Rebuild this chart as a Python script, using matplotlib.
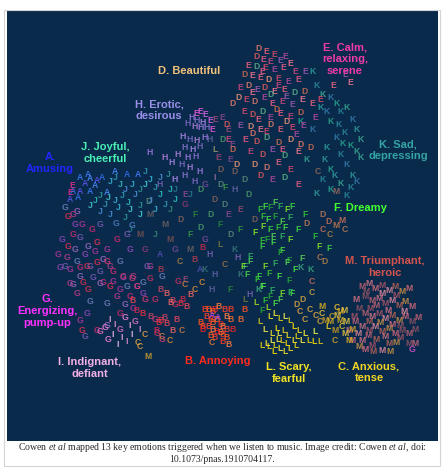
import matplotlib.pyplot as plt
from matplotlib.patches import Rectangle

# positions are in the pixel frame of the original picture (x right, y down)
label_texts = ['D. Beautiful', 'E. Calm,\nrelaxing,\nserene', 'H. Erotic,\ndesirous',
               'J. Joyful,\ncheerful', 'A.\nAmusing', 'K. Sad,\ndepressing', 'F. Dreamy',
               'M. Triumphant,\nheroic', 'G.\nEnergizing,\npump-up', 'I. Indignant,\ndefiant',
               'B. Annoying', 'L. Scary,\nfearful', 'C. Anxious,\ntense']
label_x = [189, 345, 159, 105, 50, 398, 360, 385, 47, 90, 218, 289, 369]
label_y = [71, 59, 110, 153, 163, 150, 208, 267, 311, 368, 361, 373, 372]
label_colors = ['#f2c27a', '#f03aa8', '#9a8ee8', '#48f0b4', '#2424ff', '#34a4a4', '#44ff30',
                '#d4544e', '#ff30ff', '#f2b0e4', '#ff2a1e', '#f2e224', '#f2d424']

caption_1 = (r'Cowen $\mathit{et\ al}$ mapped 13 key emotions triggered when we listen to music. '
             r'Image credit: Cowen $\mathit{et\ al}$, doi:')
caption_2 = '10.1073/pnas.1910704117.'

# clusters of letters: (x, y, letter)
e_pts = [(259, 49, 'D'), (266, 52, 'E'), (274, 55, 'E'), (285, 57, 'E'),
         (256, 57, 'D'), (263, 60, 'E'), (270, 62, 'E'), (280, 61, 'E'), (290, 64, 'E'),
         (248, 66, 'E'), (256, 67, 'D'), (265, 68, 'E'), (274, 70, 'E'), (283, 68, 'E'), (295, 72, 'E'), (305, 72, 'E'),
         (244, 75, 'D'), (252, 76, 'E'), (260, 78, 'E'), (268, 80, 'D'), (278, 79, 'E'), (288, 82, 'E'), (298, 80, 'E'),
         (240, 88, 'E'), (248, 86, 'D'), (257, 90, 'E'), (265, 88, 'D'), (274, 92, 'E'), (284, 90, 'E'), (294, 93, 'D'),
         (304, 92, 'D'), (238, 98, 'D'), (246, 100, 'E'), (255, 102, 'D'), (264, 98, 'E'), (272, 104, 'E'),
         (282, 102, 'E'), (292, 105, 'E'), (302, 100, 'E'), (312, 104, 'E'),
         (244, 112, 'E'), (252, 115, 'D'), (262, 112, 'D'), (270, 118, 'E'), (280, 114, 'E'), (290, 117, 'E'), (300, 113, 'D'),
         (240, 126, 'E'), (250, 127, 'D'), (260, 130, 'E'), (270, 125, 'D'), (280, 130, 'E'), (292, 128, 'E'), (303, 126, 'E'),
         (245, 140, 'E'), (256, 142, 'D'), (267, 138, 'D'), (278, 143, 'D'), (290, 140, 'D'), (300, 145, 'D'),
         (250, 152, 'E'), (262, 155, 'D'), (272, 150, 'E'), (285, 156, 'D'), (298, 152, 'E'), (310, 148, 'D'),
         (255, 165, 'D'), (266, 168, 'D'), (278, 163, 'E'), (290, 170, 'E'),
         (260, 176, 'D'), (272, 180, 'E'), (285, 178, 'D'), (298, 185, 'E'),
         (232, 150, 'D'), (236, 165, 'D'), (228, 140, 'E'), (232, 104, 'D'), (226, 125, 'D'),
         (345, 75, 'E'), (350, 83, 'E'), (333, 86, 'E'), (320, 100, 'E'), (315, 118, 'E'),
         (262, 72, 'E'), (278, 86, 'E'), (270, 95, 'D'), (286, 97, 'E'), (252, 93, 'E'), (276, 110, 'D'),
         (258, 120, 'E'), (286, 122, 'D'), (266, 132, 'E'), (296, 135, 'E'), (252, 134, 'D'), (282, 150, 'E')]
k_pts = [(312, 72, 'K'), (316, 86, 'K'), (322, 95, 'K'), (330, 98, 'K'), (336, 104, 'K'), (320, 108, 'K'),
         (341, 112, 'K'), (347, 108, 'K'), (352, 120, 'K'), (331, 122, 'K'), (356, 130, 'K'), (345, 133, 'K'),
         (361, 140, 'K'), (336, 138, 'K'), (350, 146, 'K'), (326, 148, 'K'), (341, 155, 'K'), (357, 152, 'K'),
         (346, 165, 'K'), (331, 170, 'K'), (352, 176, 'K'), (322, 180, 'K'), (340, 184, 'K'), (356, 182, 'K'),
         (330, 190, 'K'), (316, 194, 'K'), (346, 196, 'K'), (306, 160, 'K'), (312, 130, 'K'), (300, 122, 'K'),
         (325, 160, 'K'), (338, 125, 'K'), (360, 158, 'K'), (318, 172, 'C'), (336, 192, 'M'),
         (327, 112, 'K'), (343, 144, 'K'), (334, 176, 'K'), (350, 188, 'K')]
h_pts = [(200, 112, 'E'), (205, 115, 'E'), (196, 114, 'E'), (210, 121, 'E'), (212, 130, 'E'),
         (192, 118, 'H'), (197, 121, 'H'), (203, 123, 'H'), (188, 124, 'H'), (195, 127, 'H'), (201, 128, 'H'),
         (207, 128, 'H'), (183, 137, 'H'), (190, 140, 'H'), (197, 141, 'H'), (205, 138, 'H'), (185, 148, 'H'),
         (193, 150, 'H'), (200, 147, 'H'), (178, 155, 'H'), (188, 158, 'H'), (196, 157, 'H'), (172, 163, 'H'),
         (182, 165, 'H'), (190, 168, 'H'), (200, 172, 'H'), (185, 176, 'H'), (175, 180, 'H'), (195, 182, 'H'),
         (165, 158, 'H'), (150, 153, 'H'), (215, 150, 'L')]
a_pts = [(88, 175, 'A'), (90, 179, 'A'), (97, 181, 'A'), (102, 178, 'A'), (90, 192, 'A'), (107, 193, 'A'),
         (80, 192, 'A'), (73, 192, 'A'), (80, 178, 'A'), (95, 186, 'A'), (85, 184, 'A'), (127, 175, 'A'),
         (138, 175, 'A'), (115, 172, 'A'), (70, 200, 'A'), (78, 198, 'A'), (72, 186, 'E'), (70, 193, 'E')]
j_pts = [(110, 182, 'J'), (115, 178, 'J'), (120, 185, 'J'), (125, 190, 'J'), (100, 196, 'J'), (108, 198, 'J'),
         (115, 201, 'J'), (122, 196, 'J'), (128, 203, 'J'), (135, 195, 'J'), (140, 190, 'J'), (145, 185, 'J'),
         (150, 180, 'J'), (155, 188, 'J'), (160, 195, 'J'), (150, 201, 'J'), (140, 206, 'J'), (130, 210, 'J'),
         (118, 208, 'J'), (105, 205, 'J'), (95, 201, 'J'), (110, 215, 'J'), (125, 218, 'J'), (140, 215, 'J'),
         (155, 210, 'J'), (165, 205, 'J'), (170, 190, 'J'), (160, 178, 'J'), (168, 175, 'J'), (90, 206, 'J'),
         (132, 185, 'J'), (145, 172, 'J'), (175, 200, 'J'), (100, 212, 'J'), (116, 224, 'G'), (132, 226, 'G')]
g_pts = [(75, 225, 'G'), (82, 225, 'G'), (73, 235, 'G'), (80, 238, 'G'), (68, 247, 'G'), (75, 250, 'G'),
         (67, 258, 'G'), (77, 262, 'G'), (60, 268, 'G'), (70, 270, 'G'), (80, 268, 'G'), (90, 267, 'G'),
         (97, 263, 'G'), (103, 260, 'G'), (110, 267, 'G'), (120, 262, 'G'), (130, 250, 'G'), (107, 250, 'G'),
         (117, 240, 'G'), (127, 235, 'G'), (97, 243, 'G'), (88, 247, 'G'), (133, 277, 'G'), (143, 283, 'G'),
         (123, 278, 'G'), (113, 282, 'G'), (103, 283, 'G'), (93, 278, 'G'), (83, 283, 'G'), (73, 285, 'G'),
         (150, 267, 'G'), (162, 277, 'G'), (137, 287, 'G'), (120, 290, 'G'), (130, 297, 'G'), (65, 267, 'G'),
         (87, 267, 'G'), (80, 277, 'G'), (77, 294, 'G'), (90, 302, 'G'), (87, 314, 'G'), (80, 321, 'G'),
         (97, 331, 'G'), (85, 337, 'G'), (82, 331, 'G'), (107, 326, 'G'), (117, 297, 'G'), (127, 287, 'G'),
         (143, 294, 'G'), (133, 309, 'G'), (120, 314, 'G'), (147, 267, 'G'), (110, 287, 'G'), (100, 284, 'G'),
         (70, 284, 'G'), (107, 304, 'G'), (62, 240, 'G'), (58, 255, 'G'), (92, 230, 'G'), (100, 225, 'G'),
         (68, 217, 'G'), (77, 212, 'G'), (73, 215, 'G'), (65, 208, 'G'),
         (85, 255, 'G'), (95, 252, 'G'), (113, 272, 'G'), (100, 272, 'G'), (88, 290, 'G'), (125, 305, 'G')]
r_pts = [(107, 262, 'G'), (123, 277, 'G'), (132, 279, 'G'), (150, 279, 'G'), (137, 287, 'G'), (160, 321, 'B'),
         (167, 324, 'B'), (157, 331, 'B'), (173, 331, 'B'), (150, 317, 'B'), (143, 314, 'B'), (133, 301, 'B'),
         (137, 311, 'B'), (167, 294, 'B'), (173, 301, 'B'), (180, 304, 'B'), (187, 307, 'B'), (183, 300, 'B'),
         (175, 305, 'G'), (170, 303, 'B'), (165, 318, 'B'), (158, 323, 'B'), (155, 320, 'G'), (177, 320, 'B'),
         (157, 334, 'G'), (162, 340, 'G'), (203, 248, 'B'), (202, 283, 'C'), (182, 331, 'C'), (170, 341, 'C'),
         (162, 337, 'C'), (155, 300, 'G'), (145, 300, 'G'), (190, 295, 'B'), (195, 290, 'C'),
         (185, 285, 'C'), (178, 282, 'G'), (160, 290, 'B')]
i_pts = [(110, 320, 'I'), (115, 325, 'I'), (120, 330, 'G'), (113, 335, 'I'), (122, 338, 'I'), (127, 342, 'I'),
         (118, 345, 'I'), (125, 318, 'G'), (130, 326, 'I'), (135, 322, 'G'), (140, 330, 'I'), (145, 335, 'C'),
         (138, 343, 'C'), (105, 328, 'G'), (100, 332, 'G'), (108, 340, 'G'), (140, 347, 'C'), (132, 335, 'I'),
         (148, 357, 'M')]
b_pts = [(205, 310, 'B'), (208, 310, 'B'), (212, 312, 'B'), (215, 310, 'B'), (218, 307, 'B'), (207, 317, 'B'),
         (210, 320, 'B'), (213, 323, 'B'), (217, 320, 'B'), (220, 325, 'B'), (223, 327, 'B'), (227, 330, 'B'),
         (223, 335, 'B'), (227, 338, 'B'), (220, 333, 'B'), (217, 332, 'B'), (212, 330, 'B'), (208, 327, 'B'),
         (203, 327, 'B'), (200, 323, 'B'), (230, 320, 'B'), (233, 330, 'B'), (228, 345, 'B'), (225, 310, 'B'),
         (230, 310, 'B'), (245, 310, 'B'), (240, 320, 'B'), (202, 330, 'B'), (227, 317, 'B'), (215, 338, 'B'),
         (222, 342, 'B'), (210, 336, 'B'), (218, 318, 'A'), (212, 316, 'A'), (212, 343, 'C')]
f_pts = [(260, 210, 'F'), (265, 207, 'F'), (270, 208, 'F'), (275, 203, 'F'), (280, 207, 'F'), (287, 210, 'F'),
         (292, 207, 'F'), (263, 217, 'F'), (268, 220, 'F'), (275, 217, 'F'), (282, 222, 'F'), (290, 218, 'F'),
         (263, 227, 'F'), (270, 230, 'F'), (278, 228, 'F'), (285, 228, 'F'), (267, 240, 'F'), (273, 237, 'F'),
         (282, 237, 'F'), (290, 240, 'F'), (262, 247, 'F'), (262, 241, 'F'), (282, 251, 'F'), (289, 261, 'F'),
         (302, 259, 'F'), (275, 264, 'F'), (265, 267, 'F'), (259, 277, 'F'), (269, 274, 'F'), (279, 277, 'F'),
         (289, 281, 'F'), (262, 287, 'F'), (272, 291, 'F'), (282, 294, 'F'), (292, 294, 'F'), (265, 301, 'F'),
         (275, 304, 'F'), (262, 311, 'F'), (250, 262, 'F'), (245, 267, 'F'), (319, 247, 'F'), (329, 249, 'F'),
         (315, 237, 'F'), (273, 243, 'F'), (280, 253, 'F'), (287, 263, 'F'), (250, 257, 'F'), (243, 267, 'F'),
         (247, 275, 'F'), (257, 280, 'F'), (263, 287, 'F'), (270, 297, 'F'), (280, 300, 'F'), (290, 293, 'F'),
         (255, 233, 'F'), (298, 230, 'F'), (305, 215, 'F'), (295, 270, 'F'),
         (258, 290, 'K'), (300, 268, 'K'), (310, 270, 'K'), (312, 293, 'C'), (268, 308, 'L'), (256, 303, 'L')]
l_pts = [(270, 317, 'L'), (275, 314, 'L'), (280, 319, 'L'), (285, 317, 'L'), (290, 321, 'L'), (294, 327, 'L'),
         (299, 331, 'L'), (305, 334, 'L'), (309, 341, 'L'), (279, 334, 'L'), (282, 341, 'L'), (287, 344, 'L'),
         (290, 349, 'L'), (280, 349, 'L'), (275, 346, 'L'), (272, 341, 'L'), (269, 347, 'L'), (274, 352, 'L'),
         (285, 352, 'L'), (294, 341, 'L'), (297, 337, 'L'), (302, 341, 'L'), (284, 331, 'L'), (277, 329, 'L'),
         (272, 334, 'L'), (267, 344, 'L'), (262, 346, 'L'), (315, 332, 'L'), (320, 342, 'L'), (314, 342, 'L'),
         (288, 336, 'L'), (278, 340, 'L'), (296, 346, 'L'), (265, 330, 'L'), (260, 322, 'L'),
         (300, 312, 'C'), (310, 310, 'C'), (316, 316, 'C'), (305, 320, 'C'), (320, 322, 'C'),
         (297, 305, 'D'), (303, 300, 'D')]
c_pts = [(322, 307, 'M'), (322, 314, 'C'), (325, 321, 'M'), (332, 317, 'C'), (337, 316, 'M'), (340, 321, 'M'),
         (342, 327, 'C'), (335, 331, 'M'), (345, 334, 'M'), (349, 341, 'M'), (335, 341, 'C'), (340, 312, 'M'),
         (344, 311, 'M'), (337, 308, 'C'), (330, 322, 'M'), (328, 327, 'L'), (352, 330, 'M'), (346, 322, 'M')]
m_pts = [(362, 287, 'M'), (369, 284, 'M'), (382, 286, 'M'), (389, 291, 'M'), (395, 287, 'M'),
         (402, 292, 'M'), (409, 289, 'M'), (365, 297, 'M'), (372, 301, 'M'), (379, 299, 'M'), (385, 304, 'M'),
         (392, 301, 'M'), (399, 306, 'M'), (405, 302, 'M'), (412, 307, 'M'), (359, 309, 'M'), (365, 314, 'M'),
         (372, 317, 'M'), (379, 314, 'M'), (385, 319, 'M'), (392, 316, 'M'), (399, 321, 'M'), (405, 317, 'M'),
         (412, 322, 'M'), (355, 322, 'M'), (362, 327, 'M'), (369, 331, 'M'), (375, 327, 'M'), (382, 332, 'M'),
         (389, 329, 'M'), (395, 334, 'M'), (402, 331, 'M'), (409, 334, 'M'), (362, 341, 'M'), (372, 346, 'M'),
         (382, 351, 'M'), (389, 344, 'M'), (359, 347, 'M'), (352, 341, 'M'), (409, 344, 'M'), (415, 344, 'M'),
         (349, 331, 'M'), (354, 317, 'M'), (382, 294, 'M'), (376, 340, 'M'), (396, 343, 'M'), (375, 289, 'M'),
         (366, 292, 'M'), (376, 306, 'M'), (388, 311, 'M'), (396, 296, 'M'), (404, 312, 'M'), (369, 322, 'M'),
         (380, 323, 'M'), (392, 325, 'M'), (400, 326, 'M'), (368, 336, 'M'), (385, 337, 'M'), (400, 338, 'M'),
         (358, 334, 'M'), (373, 352, 'M'), (390, 352, 'M'), (365, 350, 'M'), (415, 330, 'M'), (418, 318, 'M'),
         (356, 300, 'M'), (370, 309, 'M'), (412, 350, 'G')]
mid_pts = [(160, 185, 'H'), (175, 190, 'J'), (185, 195, 'E'), (200, 190, 'D'), (215, 200, 'D'), (225, 205, 'D'),
           (240, 210, 'E'), (235, 190, 'H'), (210, 215, 'D'), (195, 215, 'F'), (180, 220, 'D'), (165, 225, 'M'),
           (155, 235, 'J'), (170, 240, 'M'), (190, 235, 'F'), (205, 240, 'G'), (220, 245, 'L'), (235, 250, 'K'),
           (210, 255, 'H'), (195, 260, 'B'), (180, 262, 'C'), (225, 265, 'C'), (240, 275, 'K'), (215, 275, 'H'),
           (200, 270, 'A'), (230, 290, 'F'), (160, 255, 'A'), (145, 250, 'G'), (240, 230, 'F'), (245, 180, 'D'),
           (248, 195, 'D'), (230, 160, 'E'), (220, 170, 'D'), (215, 178, 'I'), (205, 185, 'G'), (150, 215, 'M'),
           (140, 235, 'M'), (130, 230, 'J'), (250, 295, 'H'), (160, 270, 'B'), (185, 280, 'E'), (245, 300, 'L'),
           (148, 202, 'D'), (170, 210, 'J'), (185, 205, 'G'), (220, 225, 'F'), (228, 215, 'E'), (200, 228, 'D'),
           (190, 250, 'M'), (175, 250, 'G'), (255, 220, 'D'), (230, 235, 'D'), (212, 290, 'H'), (205, 270, 'K'),
           (190, 195, 'J'), (238, 258, 'H'), (225, 188, 'F'), (215, 120, 'E'), (222, 118, 'E'), (228, 130, 'E'),
           (223, 140, 'D'), (232, 145, 'E'), (210, 140, 'H'), (218, 158, 'E'), (235, 172, 'D'), (220, 185, 'D')]
o_pts = [(322, 215, 'D'), (328, 222, 'D'), (336, 226, 'M'), (342, 221, 'M'), (345, 230, 'C'), (323, 230, 'C'),
         (330, 235, 'C'), (320, 258, 'C'), (325, 262, 'D'), (312, 282, 'C'), (306, 224, 'D')]

clusters = [
    (mid_pts, {'D': ['#4a9a6a', '#8a625a', '#5a8a7a'], 'E': ['#8a4a8a', '#9c4a74'], 'F': ['#2a8a3c', '#3a9a44'],
               'G': ['#7a4a9c', '#8c3a74'], 'H': ['#7a64b4', '#6464a4'], 'J': ['#2a7a8c', '#3a8a74'],
               'K': ['#3a7a7a'], 'M': ['#6a6264', '#7a5050'], 'C': ['#aa8444', '#9a7444'], 'B': ['#b03a4c'],
               'L': ['#7a7a3c'], 'A': ['#5050b4'], 'I': ['#9a729c']}),
    (o_pts, {'*': ['#c07a50', '#cc7054', '#b08448']}),
    (k_pts, {'K': ['#30a0a0', '#2a8c98', '#3aaa94', '#347cac', '#28a890'], '*': ['#9a6a5a']}),
    (e_pts, {'E': ['#f0647e', '#e04a6c', '#b44aa0', '#ee5c86', '#d24a80', '#a05ab0', '#f87890'],
             'D': ['#e87c6a', '#e05a5c', '#5cb088', '#d06c50', '#f09474'], 'K': ['#30a0a4']}),
    (h_pts, {'H': ['#a27ce4', '#8c74d4', '#b08cec', '#826cc8', '#b884e0'], 'E': ['#ea5ae0', '#dc64ec'],
             'L': ['#9a9a6a']}),
    (g_pts, {'G': ['#9448bc', '#b4349c', '#d02a70', '#7c5cb4', '#e03050', '#9c6cc4', '#bc3c8c', '#7080bc']}),
    (j_pts, {'J': ['#38b4d8', '#309eb4', '#2ac4c0', '#4c90d8', '#2a9a98', '#44d0cc'], 'G': ['#4e80c0']}),
    (a_pts, {'A': ['#3c7cff', '#4c8cff', '#5c54f0', '#3070f0'], 'E': ['#ea2c90']}),
    (r_pts, {'B': ['#e43040', '#ec4458', '#cc284c', '#f06464', '#c44464'], 'G': ['#dc3a70', '#cc305e'],
             'C': ['#e08e30', '#d07e40']}),
    (i_pts, {'I': ['#f8aee8', '#f096dc', '#ffc4f4'], 'G': ['#e874c8', '#f484d8'], 'C': ['#e0a440'],
             'M': ['#d0a030']}),
    (f_pts, {'F': ['#34cc34', '#4cec44', '#26ac36', '#5cdc54', '#34bc64', '#8cee24', '#40e440'],
             'K': ['#3aaa80'], 'C': ['#d0a840'], 'L': ['#a8dc20']}),
    (b_pts, {'B': ['#ff3c20', '#ff5622', '#ff6c30', '#f02424', '#ff7c40', '#f84230'], 'A': ['#a840e4'],
             'C': ['#e87c30']}),
    (m_pts, {'M': ['#c86474', '#d87484', '#b05464', '#e88c9c', '#c06454', '#d09444', '#dc6c7c', '#985464'],
             'G': ['#dc54cc']}),
    (c_pts, {'M': ['#e0b420', '#d0a020', '#f0cc40'], 'C': ['#f0c430', '#d8a830'], 'L': ['#f4d820']}),
    (l_pts, {'L': ['#f4e420', '#fff034', '#e8d810', '#f8f44c', '#e0cc20', '#ffe400'], 'C': ['#e8ac40'],
             'D': ['#d8a440']}),
]

plt.rcParams['mathtext.fontset'] = 'custom'
plt.rcParams['mathtext.rm'] = 'Liberation Serif'
plt.rcParams['mathtext.it'] = 'Liberation Serif:italic'

fig = plt.figure(figsize=(4.44, 4.68), dpi=100, facecolor='white')
W, H = 444, 468

# light frame around the whole picture
fig.patches.append(Rectangle((4 / W, 1 - 466 / H), 436 / W, 456 / H, transform=fig.transFigure,
                             fill=False, edgecolor='#d4d4d4', lw=0.8))

ax = fig.add_axes([7 / W, 1 - 441 / H, 431 / W, 430 / H])
ax.set_facecolor('#0a2a4c')
ax.set_xlim(7, 438)
ax.set_ylim(441, 11)
ax.set_xticks([])
ax.set_yticks([])
for s in ax.spines.values():
    s.set_visible(False)

for pts, pal in clusters:
    count = {}
    for x, y, ch in pts:
        cols = pal.get(ch, pal.get('*', ['#808080']))
        n = count.get(ch, 0)
        count[ch] = n + 1
        ax.text(x, y, ch, color=cols[n % len(cols)], fontsize=6.2, fontweight='bold',
                family='Liberation Sans', ha='center', va='center', alpha=0.85)

for t, x, y, c in zip(label_texts, label_x, label_y, label_colors):
    ax.text(x, y, t, color=c, fontsize=8, fontweight='bold', family='Liberation Sans',
            ha='center', va='center', linespacing=1.2, multialignment='center')

fig.text(0.5, 1 - 447 / H, caption_1, family='Liberation Serif', fontsize=7,
         color='#2a2a2a', ha='center', va='center')
fig.text(0.5, 1 - 460 / H, caption_2, family='Liberation Serif', fontsize=7,
         color='#2a2a2a', ha='center', va='center')

fig.savefig('out.png', dpi=100, facecolor='white')
